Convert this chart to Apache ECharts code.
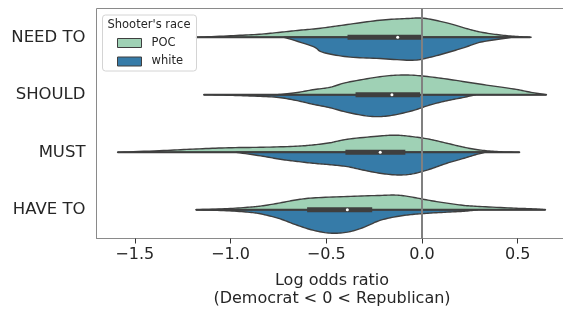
<!DOCTYPE html>
<html>
<head>
<meta charset="utf-8">
<script src="https://cdn.jsdelivr.net/npm/echarts@6/dist/echarts.min.js"></script>
<style>
html,body{margin:0;padding:0;background:#fff;}
#chart{width:563px;height:315px;}
</style>
</head>
<body>
<div id="chart"></div>
<script>
// ---------------- data ----------------
const categories = ['NEED TO', 'SHOULD', 'MUST', 'HAVE TO'];
const hues = ['POC', 'white'];
const xTickValues = [-1.5, -1.0, -0.5, 0.0, 0.5];

// violin half profiles: x = log odds, w = half width (fraction of category band)
const needToPocX = [-1.18, -1.00, -0.85, -0.74, -0.64, -0.53, -0.39, -0.22, -0.08, 0.01, 0.13, 0.22, 0.30, 0.39, 0.48, 0.57];
const needToPocW = [0, 0.026, 0.052, 0.087, 0.122, 0.157, 0.221, 0.296, 0.325, 0.330, 0.250, 0.163, 0.094, 0.047, 0.017, 0];
const needToWhiteX = [-0.72, -0.57, -0.52, -0.39, -0.22, -0.05, 0.04, 0.13, 0.22, 0.30, 0.39, 0.47];
const needToWhiteW = [0, 0.16, 0.26, 0.34, 0.37, 0.40, 0.35, 0.27, 0.18, 0.09, 0.04, 0];

const shouldPocX = [-0.76, -0.66, -0.57, -0.48, -0.39, -0.22, -0.11, -0.01, 0.13, 0.30, 0.48, 0.57, 0.65];
const shouldPocW = [0, 0.035, 0.087, 0.130, 0.216, 0.313, 0.343, 0.330, 0.273, 0.186, 0.100, 0.042, 0];
const shouldWhiteX = [-1.14, -1.01, -0.90, -0.76, -0.66, -0.57, -0.48, -0.39, -0.27, -0.17, -0.05, 0.04, 0.13, 0.22, 0.28];
const shouldWhiteW = [0, 0.009, 0.021, 0.043, 0.097, 0.165, 0.226, 0.306, 0.376, 0.365, 0.278, 0.179, 0.104, 0.045, 0];

const mustPocX = [-1.59, -1.35, -1.18, -1.01, -0.83, -0.66, -0.57, -0.48, -0.39, -0.22, -0.13, -0.05, 0.04, 0.13, 0.22, 0.30, 0.39, 0.51];
const mustPocW = [0, 0.030, 0.057, 0.078, 0.087, 0.104, 0.127, 0.165, 0.226, 0.283, 0.296, 0.271, 0.226, 0.157, 0.087, 0.040, 0.012, 0];
const mustWhiteX = [-0.97, -0.83, -0.74, -0.66, -0.57, -0.48, -0.39, -0.31, -0.22, -0.13, -0.05, 0.04, 0.13, 0.22, 0.28, 0.33];
const mustWhiteW = [0, 0.070, 0.122, 0.157, 0.191, 0.217, 0.250, 0.308, 0.365, 0.395, 0.377, 0.296, 0.191, 0.104, 0.043, 0];

const haveToPocX = [-1.18, -1.03, -0.90, -0.83, -0.74, -0.66, -0.57, -0.39, -0.22, -0.13, -0.05, 0.04, 0.13, 0.22, 0.30, 0.48, 0.57, 0.645];
const haveToPocW = [0, 0.017, 0.045, 0.070, 0.120, 0.170, 0.205, 0.231, 0.249, 0.254, 0.219, 0.162, 0.115, 0.075, 0.057, 0.028, 0.017, 0];
const haveToWhiteX = [-1.18, -1.02, -0.90, -0.83, -0.74, -0.66, -0.57, -0.48, -0.39, -0.31, -0.22, -0.13, -0.05, 0.04, 0.13, 0.22, 0.29];
const haveToWhiteW = [0, 0.017, 0.045, 0.080, 0.160, 0.260, 0.355, 0.407, 0.390, 0.313, 0.186, 0.117, 0.082, 0.059, 0.042, 0.026, 0];

// inner box (per category)
const whiskerLow  = [-1.18, -1.14, -1.59, -1.18];
const whiskerHigh = [0.566, 0.65, 0.51, 0.645];
const boxQ1       = [-0.389, -0.347, -0.40, -0.60];
const boxQ3       = [0.005, -0.01, -0.087, -0.26];
const medians     = [-0.127, -0.157, -0.218, -0.39];

// ---------------- build ----------------
const pocProfiles = [[needToPocX, needToPocW], [shouldPocX, shouldPocW], [mustPocX, mustPocW], [haveToPocX, haveToPocW]];
const whiteProfiles = [[needToWhiteX, needToWhiteW], [shouldWhiteX, shouldWhiteW], [mustWhiteX, mustWhiteW], [haveToWhiteX, haveToWhiteW]];

const POC_COLOR = '#9fd1b5';
const WHITE_COLOR = '#367ba8';
const EDGE = '#3f3f3f';
const FONT = '"DejaVu Sans", sans-serif';
const TXT = '#262626';

function catmull(pts) {
  const out = [];
  const n = pts.length;
  for (let i = 0; i < n - 1; i++) {
    const p0 = pts[i - 1] || pts[i], p1 = pts[i], p2 = pts[i + 1], p3 = pts[i + 2] || pts[i + 1];
    const c1 = [p1[0] + (p2[0] - p0[0]) / 6, p1[1] + (p2[1] - p0[1]) / 6];
    const c2 = [p2[0] - (p3[0] - p1[0]) / 6, p2[1] - (p3[1] - p1[1]) / 6];
    const steps = 10;
    for (let s = 0; s < steps; s++) {
      const t = s / steps, u = 1 - t;
      out.push([
        u*u*u*p1[0] + 3*u*u*t*c1[0] + 3*u*t*t*c2[0] + t*t*t*p2[0],
        u*u*u*p1[1] + 3*u*u*t*c1[1] + 3*u*t*t*c2[1] + t*t*t*p2[1]
      ]);
    }
  }
  out.push(pts[n - 1]);
  return out;
}

function violinRender(profiles, dir, color) {
  return function (params, api) {
    const ci = api.value(1);
    const prof = profiles[ci];
    const band = api.size([0, 1])[1];
    const pts = prof[0].map((x, k) => {
      const p = api.coord([x, ci]);
      return [p[0], p[1] + dir * prof[1][k] * band];
    });
    const curve = catmull(pts);
    return {
      type: 'polygon',
      shape: { points: curve },
      style: { fill: color, stroke: EDGE, lineWidth: 1.4, lineJoin: 'round' }
    };
  };
}

const catData = categories.map((c, i) => [0, i]);

const option = {
  animation: false,
  backgroundColor: '#fff',
  grid: { left: 96.5, top: 8.5, width: 471, height: 230, show: true, borderColor: '#8a8a8a', borderWidth: 1,
          backgroundColor: 'transparent', outerBoundsMode: 'none', containLabel: false },
  xAxis: {
    type: 'value', min: -1.7, max: 0.76,
    name: 'Log odds ratio\n(Democrat < 0 < Republican)',
    nameLocation: 'middle', nameGap: 33,
    nameTextStyle: { fontFamily: FONT, fontSize: 16, color: TXT, lineHeight: 18 },
    axisLine: { show: true, lineStyle: { color: '#8a8a8a', width: 1 } },
    axisTick: { show: true, length: 5, lineStyle: { color: '#333', width: 1 }, customValues: xTickValues },
    axisLabel: {
      fontFamily: FONT, fontSize: 16, color: TXT, margin: 8,
      customValues: xTickValues,
      formatter: v => (v < 0 ? '\u2212' : '') + Math.abs(v).toFixed(1)
    },
    splitLine: { show: false }
  },
  yAxis: {
    type: 'category', data: categories, inverse: true,
    axisLine: { show: true, lineStyle: { color: '#8a8a8a', width: 1 } },
    axisTick: { show: true, alignWithLabel: true, length: 5, lineStyle: { color: '#333', width: 1 } },
    axisLabel: { fontFamily: FONT, fontSize: 16.5, color: TXT, margin: 11 },
    splitLine: { show: false }
  },
  legend: {
    orient: 'vertical', left: 117, top: 37, padding: 0, itemGap: 6.5,
    itemWidth: 24, itemHeight: 9, z: 20,
    textStyle: { fontFamily: FONT, fontSize: 11.5, color: TXT, padding: [0, 0, 0, 5] },
    data: [
      { name: 'POC', icon: 'rect', itemStyle: { color: POC_COLOR, borderColor: EDGE, borderWidth: 1 } },
      { name: 'white', icon: 'rect', itemStyle: { color: WHITE_COLOR, borderColor: EDGE, borderWidth: 1 } }
    ]
  },
  graphic: [
    { type: 'rect', z: 15, shape: { x: 102.5, y: 15, width: 94, height: 56, r: 3 },
      style: { fill: 'rgba(255,255,255,0.85)', stroke: '#d4d4d4', lineWidth: 1 } },
    { type: 'text', z: 16, x: 107.5, y: 25, style: { text: "Shooter's race", font: '11.5px ' + FONT, fill: TXT, verticalAlign: 'middle' } }
  ],
  series: [
    { name: 'POC', type: 'custom', data: catData, encode: { x: 0, y: 1 }, z: 2,
      itemStyle: { color: POC_COLOR }, renderItem: violinRender(pocProfiles, -1, POC_COLOR) },
    { name: 'white', type: 'custom', data: catData, encode: { x: 0, y: 1 }, z: 2,
      itemStyle: { color: WHITE_COLOR }, renderItem: violinRender(whiteProfiles, 1, WHITE_COLOR) },
    { name: 'box', type: 'custom', data: catData, encode: { x: 0, y: 1 }, z: 3,
      renderItem: function (params, api) {
        const ci = api.value(1);
        const lo = api.coord([whiskerLow[ci], ci]);
        const hi = api.coord([whiskerHigh[ci], ci]);
        const q1 = api.coord([boxQ1[ci], ci]);
        const q3 = api.coord([boxQ3[ci], ci]);
        const md = api.coord([medians[ci], ci]);
        return { type: 'group', children: [
          { type: 'line', shape: { x1: lo[0], y1: lo[1], x2: hi[0], y2: hi[1] }, style: { stroke: EDGE, lineWidth: 1.8 } },
          { type: 'line', shape: { x1: q1[0], y1: q1[1], x2: q3[0], y2: q3[1] }, style: { stroke: EDGE, lineWidth: 5, lineCap: 'butt' } },
          { type: 'circle', shape: { cx: md[0], cy: md[1], r: 1.5 }, style: { fill: '#fff' } }
        ] };
      } },
    { name: 'zero', type: 'custom', data: [[0, 0]], encode: { x: 0, y: 1 }, z: 4,
      renderItem: function (params, api) {
        const cs = params.coordSys;
        const p = api.coord([0, 0]);
        return { type: 'line', shape: { x1: p[0], y1: cs.y, x2: p[0], y2: cs.y + cs.height },
          style: { stroke: '#808080', lineWidth: 2 } };
      } }
  ]
};

const chart = echarts.init(document.getElementById('chart'), null, { renderer: 'canvas' });
chart.setOption(option);
</script>
</body>
</html>
